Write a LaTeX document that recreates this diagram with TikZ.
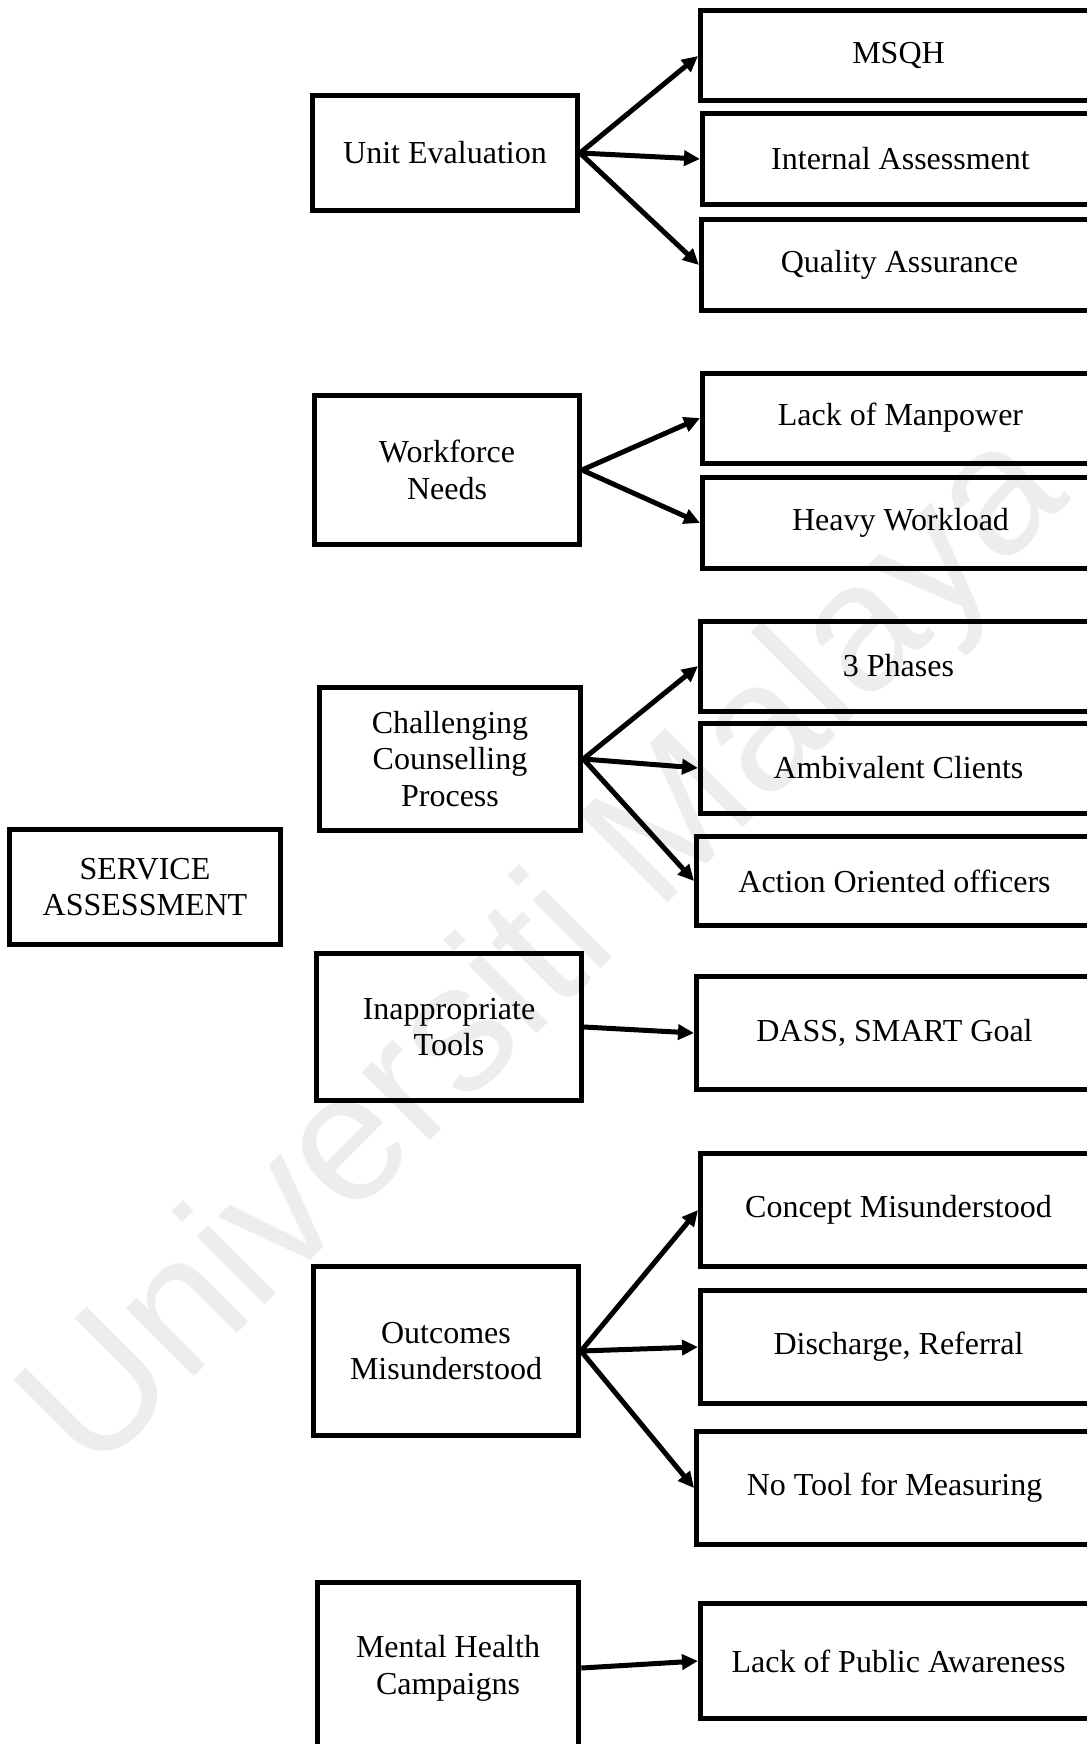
\documentclass[tikz,border=0pt]{standalone}
\usepackage{fontspec}
\setmainfont{Liberation Serif}
\newfontfamily\wmfont{Liberation Sans}
\usetikzlibrary{arrows.meta, positioning}
\definecolor{wmgray}{HTML}{EDEDED}

\begin{document}
\begin{tikzpicture}[
  x=0.5pt, y=-0.5pt,
  box/.style={rectangle, draw=black, line width=2.5pt, align=center,
    inner sep=2pt, font=\fontsize{16}{18.4}\selectfont},
  root/.style={box, minimum width=135.8pt, minimum height=57.9pt},
  topic/.style={box, minimum width=132.5pt},
  item/.style={box, anchor=west, minimum width=198pt},
  >={Triangle[length=8pt, width=7.5pt]},
  arr/.style={draw=black, line width=2.5pt, ->},
  wmark/.style={text=wmgray, font=\wmfont\fontsize{91}{91}\selectfont},
]

% Page
\useasboundingbox (0,0) rectangle (1086,1744);

% Watermark
\node[wmark, rotate=45] (wm) at (549,955) {Universiti Malaya};

\node[root] (sa) at (145,887) {SERVICE\\ASSESSMENT};

\node[topic, minimum height=57.5pt] (ue) at (445,153) {Unit Evaluation};
\node[topic, minimum height=74.5pt] (wn) at (447,470) {Workforce\\Needs};
\node[topic, minimum height=71.3pt, minimum width=130.8pt] (cc) at (450,759) {Challenging\\Counselling\\Process};
\node[topic, minimum height=73.5pt] (it) at (449,1027) {Inappropriate\\Tools};
\node[topic, minimum height=84.5pt] (om) at (446,1351) {Outcomes\\Misunderstood};
\node[topic, minimum height=86pt, minimum width=130.8pt] (mh) at (448,1668) {Mental Health\\Campaigns};

\node[item, minimum height=45pt] (msqh) at (698,56) {MSQH};
\node[item, minimum height=45.5pt] (ia) at (700,159) {Internal Assessment};
\node[item, minimum height=45.5pt] (qa) at (699,265) {Quality Assurance};

\node[item, minimum height=45pt] (lm) at (700,418) {Lack of Manpower};
\node[item, minimum height=45.5pt] (hw) at (700,523) {Heavy Workload};

\node[item, minimum height=45pt] (ph) at (698,666) {3 Phases};
\node[item, minimum height=45pt] (ac) at (698,768) {Ambivalent Clients};
\node[item, minimum height=44.5pt] (ao) at (694,881) {Action Oriented officers};

\node[item, minimum height=56.8pt] (ds) at (694,1033) {DASS, SMART Goal};

\node[item, minimum height=56.8pt] (cm) at (698,1210) {Concept Misunderstood};
\node[item, minimum height=56.5pt] (dr) at (698,1347) {Discharge, Referral};
\node[item, minimum height=56.8pt] (nt) at (694,1488) {No Tool for Measuring};

\node[item, minimum height=57.8pt] (pa) at (698,1661) {Lack of Public Awareness};

\draw[arr] (ue.east) -- (msqh.west);
\draw[arr] (ue.east) -- (ia.west);
\draw[arr] (ue.east) -- (qa.west);
\draw[arr] (wn.east) -- (lm.west);
\draw[arr] (wn.east) -- (hw.west);
\draw[arr] (cc.east) -- (ph.west);
\draw[arr] (cc.east) -- (ac.west);
\draw[arr] (cc.east) -- (ao.west);
\draw[arr] (it.east) -- (ds.west);
\draw[arr] (om.east) -- (cm.west);
\draw[arr] (om.east) -- (dr.west);
\draw[arr] (om.east) -- (nt.west);
\draw[arr] (mh.east) -- (pa.west);
\end{tikzpicture}
\end{document}
